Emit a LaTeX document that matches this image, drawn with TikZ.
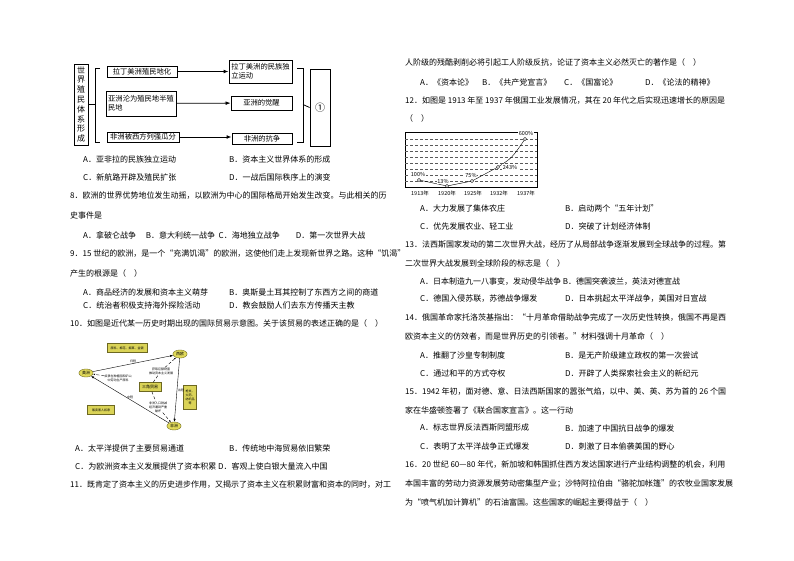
\documentclass[tikz,border=0pt]{standalone}
\usepackage{fontspec}
\setmainfont{Noto Sans CJK SC}
\usetikzlibrary{arrows.meta,shapes.geometric}
\newcounter{tn}
\newcommand{\T}[3]{\stepcounter{tn}\node[txt] (t\arabic{tn}) at (#1,#2) {#3};}
\tikzset{
 txt/.style={anchor=west,inner sep=0,font=\fontsize{8}{10}\selectfont},
 bx/.style={draw,thick,inner sep=1pt,font=\fontsize{7.3}{9}\selectfont,align=left},
 arr/.style={-{Latex[length=5pt]},thick},
 gb/.style={draw=olive!70!black,fill=olive!55!yellow!60,inner sep=1pt,font=\fontsize{3}{4}\selectfont,align=center},
 el/.style={ellipse,draw=olive!70!black,fill=olive!45!yellow!60,inner sep=1pt,font=\fontsize{4}{5}\selectfont},
 sm/.style={font=\fontsize{3}{4}\selectfont,align=center,inner sep=0},
 ch/.style={font=\fontsize{5.5}{6}\selectfont,inner sep=0.5pt},
}
\begin{document}
\begin{tikzpicture}[x=1pt,y=-1pt]
\useasboundingbox (0,0) rectangle (794,561);
% top diagram
\node[draw,thick,minimum width=14,minimum height=81,inner sep=0,align=center,font=\fontsize{8}{9.8}\selectfont] (v) at (81,104.5) {世\\界\\殖\\民\\体\\系\\形\\成};
\node[bx,minimum width=70,minimum height=11] (a1) at (142,71.5) {拉丁美洲殖民地化};
\node[bx,minimum width=70,minimum height=25] (a2) at (141,103.5) {亚洲沦为殖民地半殖\\民地};
\node[bx,minimum width=72,minimum height=10] (a3) at (143,137) {非洲被西方列强瓜分};
\node[bx,minimum width=63,minimum height=23] (b1) at (260.5,71.5) {拉丁美洲的民族独\\立运动};
\node[bx,minimum width=61,minimum height=14] (b2) at (261.5,103) {亚洲的觉醒};
\node[bx,minimum width=60,minimum height=11] (b3) at (262,138.5) {非洲的抗争};
\node[draw,thick,minimum width=20,minimum height=77,inner sep=0] (c) at (320,107.5) {①};
\draw[thick] (v.east) -- (95,104.5);
\draw[thick] (100,68) -- (95,68) -- (95,142) -- (100,142);
\draw[arr] (a1) -- (b1.west|-a1);
\draw[arr] (a2) -- (b2);
\draw[arr] (a3) -- (b3.west|-a3);
\draw[thick] (297,68) -- (303,68) -- (303,142) -- (297,142);
\draw[thick] (303,104.5) -- (c.west);
% left column text
\T{83}{159}{A．亚非拉的民族独立运动}
\T{229}{159}{B．资本主义世界体系的形成}
\T{83}{177}{C．新航路开辟及殖民扩张}
\T{229}{177}{D．一战后国际秩序上的演变}
\T{70}{196}{8．欧洲的世界优势地位发生动摇，以欧洲为中心的国际格局开始发生改变。与此相关的历}
\T{70}{215}{史事件是}
\T{83}{235}{A．拿破仑战争\quad\ B．意大利统一战争\ \ C．海地独立战争\qquad D．第一次世界大战}
\T{70}{254}{9．15 世纪的欧洲，是一个“充满饥渴”的欧洲，这使他们走上发现新世界之路。这种“饥渴”}
\T{70}{273}{产生的根源是（\quad）}
\T{83}{292}{A．商品经济的发展和资本主义萌芽}
\T{229}{292}{B．奥斯曼土耳其控制了东西方之间的商道}
\T{83}{305}{C．统治者积极支持海外探险活动}
\T{229}{305}{D．教会鼓励人们去东方传播天主教}
\T{70}{323}{10．如图是近代某一历史时期出现的国际贸易示意图。关于该贸易的表述正确的是（\quad）}
% trade diagram
\node[el] (am) at (86,373) {美洲};
\node[el] (eu) at (180,354) {西欧};
\node[el] (af) at (174,426) {非洲};
\node[gb,minimum width=40,minimum height=9] (g1) at (127,348) {原料、棉花、烟草、金银};
\node[gb,font=\fontsize{4}{5}\selectfont,minimum width=22,minimum height=9] (g2) at (150,387) {三角贸易};
\node[gb,text width=11,minimum height=24] (g3) at (190,397) {枪支、\\火药、\\纺织品\\等};
\node[gb,minimum width=27,minimum height=9] (g4) at (101,410) {贩卖黑人奴隶};
\draw[-{Latex[length=3pt]}] (am) -- node[sm,above=1pt] {归程} (eu);
\draw[-{Latex[length=3pt]}] (eu) -- node[sm,right=1pt] {出程} (af);
\draw[-{Latex[length=3pt]}] (af) -- node[sm,above=1pt] {中程} (am);
\node[sm] (m1) at (118,378) {奴隶在种植园和矿山\\中劳动生产原料};
\node[sm] (m2) at (161,371) {获取巨额财富\\推动资本主义发展};
\node[sm] (m3) at (158,407) {非洲人口锐减\\经济遭到严重\\破坏};
\draw[densely dashed,-{Latex[length=2pt]}] (m1) -- (am);
\draw[densely dashed,-{Latex[length=2pt]}] (g2) -- (m2) -- (eu);
\draw[densely dashed,-{Latex[length=2pt]}] (g2) -- (m3) -- (af);
\T{75}{448}{A．太平洋提供了主要贸易通道}
\T{229}{448}{B．传统地中海贸易依旧繁荣}
\T{75}{466}{C．为欧洲资本主义发展提供了资本积累 D．客观上使白银大量流入中国}
\T{70}{485}{11．既肯定了资本主义的历史进步作用，又揭示了资本主义在积累财富和资本的同时，对工}
% right column
\T{405}{63}{人阶级的残酷剥削必将引起工人阶级反抗，论证了资本主义必然灭亡的著作是（\quad）}
\T{420}{82}{A．《资本论》}
\T{482}{82}{B．《共产党宣言》}
\T{564}{82}{C．《国富论》}
\T{645}{82}{D．《论法的精神》}
\T{405}{101}{12．如图是 1913 年至 1937 年俄国工业发展情况，其在 20 年代之后实现迅速增长的原因是}
\T{405}{118}{（\quad）}
% chart
\draw[thick] (405,132) rectangle (537,187);
\foreach \yy in {139,145,151,157,163,169,175,181}
  \draw[densely dashed,gray!70!black] (405,\yy) -- (537,\yy);
\coordinate (p1) at (419,180);
\coordinate (p2) at (447,186);
\coordinate (p3) at (472,181);
\coordinate (p4) at (498,167);
\coordinate (p5) at (525,139);
\draw (p1) -- (p2) -- (p3) -- (p4) .. controls (512,158) .. (p5);
\foreach \p in {p1,p2,p3,p4,p5} \draw[fill=white] (\p) circle (1.6);
\node[ch,fill=white] (l1) at (418,174.5) {100\%};
\node[ch,fill=white] (l2) at (443,181.5) {13\%};
\node[ch,fill=white] (l3) at (471,175.5) {75\%};
\node[ch,fill=white] (l4) at (510,167) {243\%};
\node[ch,fill=white] (l5) at (526,133.5) {600\%};
\foreach \xx/\yr [count=\i] in {420/1913,447/1920,473/1925,499/1932,526/1937}
  \node[ch] (y\i) at (\xx,193) {\yr 年};
\T{420}{208}{A．大力发展了集体农庄}
\T{565}{208}{B．启动两个“五年计划”}
\T{420}{226}{C．优先发展农业、轻工业}
\T{565}{226}{D．突破了计划经济体制}
\T{405}{245}{13．法西斯国家发动的第二次世界大战，经历了从局部战争逐渐发展到全球战争的过程。第}
\T{405}{263}{二次世界大战发展到全球阶段的标志是（\quad）}
\T{420}{282}{A．日本制造九一八事变，发动侵华战争 B．德国突袭波兰，英法对德宣战}
\T{420}{299}{C．德国入侵苏联，苏德战争爆发}
\T{565}{299}{D．日本挑起太平洋战争，美国对日宣战}
\T{405}{318}{14．俄国革命家托洛茨基指出：“十月革命借助战争完成了一次历史性转换，俄国不再是西}
\T{405}{337}{欧资本主义的仿效者，而是世界历史的引领者。”材料强调十月革命（\quad）}
\T{420}{355}{A．推翻了沙皇专制制度}
\T{565}{355}{B．是无产阶级建立政权的第一次尝试}
\T{420}{373}{C．通过和平的方式夺权}
\T{565}{373}{D．开辟了人类探索社会主义的新纪元}
\T{405}{392}{15．1942 年初，面对德、意、日法西斯国家的嚣张气焰，以中、美、英、苏为首的 26 个国}
\T{405}{410}{家在华盛顿签署了《联合国家宣言》。这一行动}
\T{420}{428}{A．标志世界反法西斯同盟形成}
\T{565}{428}{B．加速了中国抗日战争的爆发}
\T{420}{446}{C．表明了太平洋战争正式爆发}
\T{565}{446}{D．刺激了日本偷袭美国的野心}
\T{405}{465}{16．20 世纪 60—80 年代，新加坡和韩国抓住西方发达国家进行产业结构调整的机会，利用}
\T{405}{484}{本国丰富的劳动力资源发展劳动密集型产业；沙特阿拉伯由“骆驼加帐篷”的农牧业国家发展}
\T{405}{502}{为“喷气机加计算机”的石油富国。这些国家的崛起主要得益于（\quad）}
\end{tikzpicture}
\end{document}
